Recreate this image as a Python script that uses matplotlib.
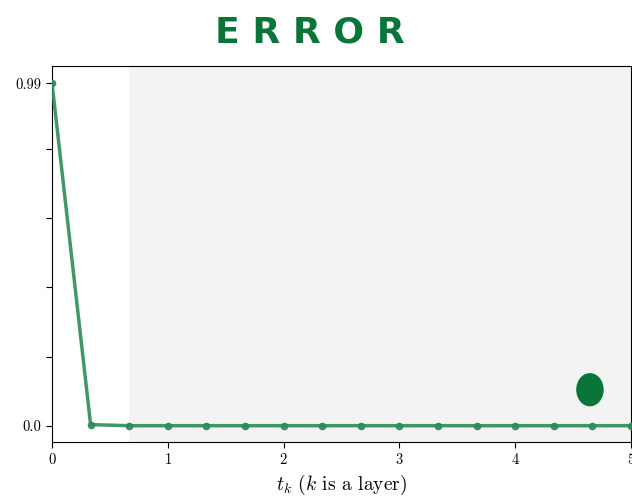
import numpy as np
import matplotlib.pyplot as plt
from matplotlib.patches import Ellipse

plt.rcParams['font.family'] = 'serif'
plt.rcParams['font.serif'] = ['cmr10', 'DejaVu Serif']
plt.rcParams['mathtext.fontset'] = 'cm'
plt.rcParams['axes.formatter.use_mathtext'] = True

t = np.arange(16) / 3
error = [0.99, 0.003, 0.0, 0.0, 0.0, 0.0, 0.0, 0.0,
         0.0, 0.0, 0.0, 0.0, 0.0, 0.0, 0.0, 0.0]
y_ticks = [0.0, 0.2, 0.4, 0.6, 0.8, 0.99]
y_labels = ['0.0', '', '', '', '', '0.99']
x_ticks = [0, 1, 2, 3, 4, 5]
shade_start = 2 / 3

fig = plt.figure(figsize=(6.32, 4.96), dpi=100)
ax = fig.add_axes([0.0823, 0.109, 0.916, 0.758])

ax.axvspan(shade_start, 5, color='#f3f3f3', zorder=0, lw=0)
ax.plot(t, error, color='#2e8b57', lw=2.5, marker='o', markersize=4.5,
        alpha=0.9, zorder=3)

# green blob in the shaded area
ax.add_patch(Ellipse((4.646, 0.104), 0.225, 0.092, color='#0a7538', zorder=4))

ax.set_xlim(0, 5)
ax.set_ylim(-0.047, 1.04)
ax.set_xticks(x_ticks)
ax.set_yticks(y_ticks)
ax.set_yticklabels(y_labels)
ax.tick_params(labelsize=10.5, length=4)
ax.set_xlabel(r'$t_k$ ($k$ is a layer)', fontsize=14)

fig.text(0.49, 0.935, 'E R R O R', ha='center', va='center', fontsize=26,
         color='#0a7538', fontweight='bold', family='DejaVu Sans')

fig.savefig('out.png', dpi=100)
